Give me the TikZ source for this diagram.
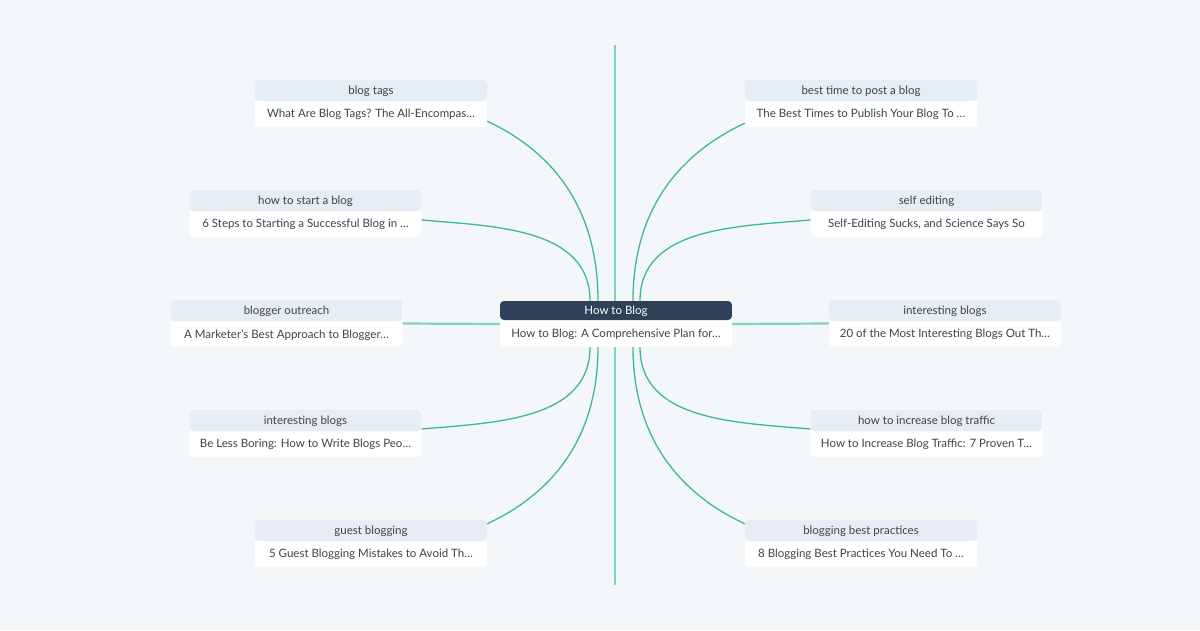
\documentclass[tikz,border=0pt]{standalone}
\usepackage{fontspec}
\setmainfont{Lato}
\usetikzlibrary{calc}
\definecolor{bgblue}{HTML}{F3F7FA}
\definecolor{hdrfill}{HTML}{E6EDF5}
\definecolor{hubfill}{HTML}{2E4159}
\definecolor{linkteal}{HTML}{3DB89F}
\definecolor{stemteal}{HTML}{80D2C1}
\definecolor{txtgray}{HTML}{3F4348}

\begin{document}
\begin{tikzpicture}[x=1pt,y=-1pt,
  card/.style={rectangle,rounded corners=4pt,fill=white,inner sep=0pt,
    minimum width=232pt,minimum height=47pt,
    path picture={\fill[hdrfill] (path picture bounding box.north west)
      rectangle ([yshift=-21pt]path picture bounding box.north east);}},
  hub/.style={card,minimum height=46pt,
    path picture={\fill[hubfill] (path picture bounding box.north west)
      rectangle ([yshift=-19pt]path picture bounding box.north east);}},
  hdrtext/.style={text=txtgray,font=\fontsize{11.5}{13}\selectfont,inner sep=0pt},
  bodytext/.style={hdrtext},
  link/.style={linkteal,line width=1.3pt},
  stemlink/.style={stemteal,line width=2.2pt}]
  % page
  \fill[bgblue] (0,0) rectangle (1200,630);
  % vertical stem behind the hub
  \coordinate (stemtop) at (615,45);
  \coordinate (stembot) at (615,585);
  \draw[stemlink] (stemtop) -- (stembot);
  % central card
  \node[hub] (hub) at (616,324) {};
  \node[hdrtext,text=white] (hub-h) at ([yshift=-10.5pt]hub.north) {How to Blog};
  \node[bodytext] (hub-b) at ([yshift=13pt]hub.south) {How to Blog: A Comprehensive Plan for…};
  % keyword cards (name / x / y / keyword / article)
  \foreach \n/\x/\y/\h/\b in {
    L1/371/103.5/blog tags/What Are Blog Tags? The All-Encompas…,
    L2/305.5/213.5/how to start a blog/6 Steps to Starting a Successful Blog in …,
    L3/286.5/323.5/blogger outreach/A Marketer's Best Approach to Blogger…,
    L4/305.5/433.5/interesting blogs/Be Less Boring: How to Write Blogs Peo…,
    L5/371/543.5/guest blogging/5 Guest Blogging Mistakes to Avoid Th…,
    R1/861/103.5/best time to post a blog/The Best Times to Publish Your Blog To …,
    R2/926.5/213.5/self editing/{Self-Editing Sucks, and Science Says So},
    R3/945/323.5/interesting blogs/20 of the Most Interesting Blogs Out Th…,
    R4/926.5/433.5/how to increase blog traffic/How to Increase Blog Traffic: 7 Proven T…,
    R5/861/543.5/blogging best practices/8 Blogging Best Practices You Need To …}
  {
    \node[card] (\n) at (\x,\y) {};
    \node[hdrtext] (\n-h) at ([yshift=-12pt]\n.north) {\h};
    \node[bodytext] (\n-b) at ([yshift=12.5pt]\n.south) {\b};
  }
  % where the links meet the hub
  \foreach \c/\dx in {L2/-26, L1/-18, R1/17, R2/24}
    \coordinate (hub-n\c) at ([xshift=\dx pt]hub.north);
  \foreach \c/\dx in {L4/-26, L5/-18, R5/17, R4/24}
    \coordinate (hub-s\c) at ([xshift=\dx pt]hub.south);
  % left links
  \draw[link] ([yshift=6pt]L1.south east) to[out=-25,in=90] (hub-nL1);
  \draw[link] ([yshift=-6.5pt]L2.east) to[out=-5,in=90] (hub-nL2);
  \draw[stemlink] (L3.east) -- (hub.west);
  \draw[link] ([yshift=4.5pt]L4.east) to[out=5,in=-90] (hub-sL4);
  \draw[link] ([yshift=-4pt]L5.north east) to[out=25,in=-90] (hub-sL5);
  % right links
  \draw[link] ([yshift=4pt]R1.south west) to[out=205,in=90] (hub-nR1);
  \draw[link] ([yshift=-6.5pt]R2.west) to[out=185,in=90] (hub-nR2);
  \draw[stemlink] (R3.west) -- (hub.east);
  \draw[link] ([yshift=4.5pt]R4.west) to[out=175,in=-90] (hub-sR4);
  \draw[link] ([yshift=-4pt]R5.north west) to[out=155,in=-90] (hub-sR5);
\end{tikzpicture}
\end{document}
